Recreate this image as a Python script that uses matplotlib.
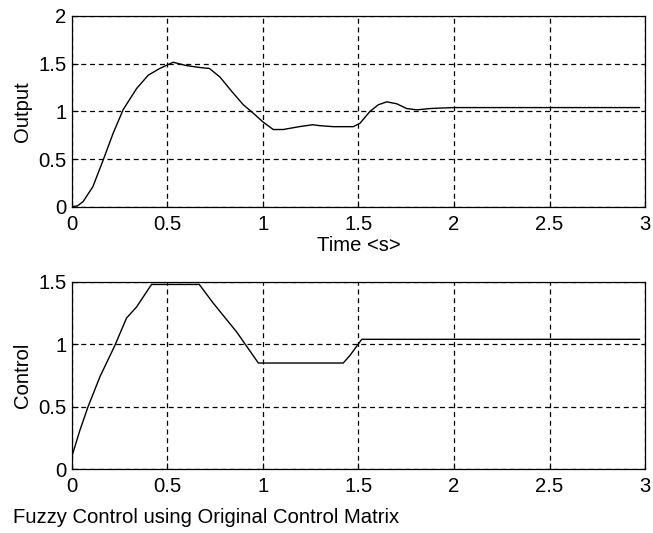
import matplotlib
matplotlib.use("Agg")
import matplotlib.pyplot as plt

plt.rcParams['font.family'] = ['Liberation Sans', 'DejaVu Sans']

# Output response (top)
t_out = [0.0, 0.03, 0.059, 0.11, 0.164, 0.216, 0.269, 0.339, 0.40, 0.46, 0.53, 0.60, 0.67, 0.72,
         0.775, 0.845, 0.897, 0.95, 1.0, 1.054, 1.106, 1.19, 1.26, 1.30, 1.368, 1.473, 1.508,
         1.56, 1.604, 1.648, 1.70, 1.752, 1.805, 1.874, 1.996, 2.97]
y_out = [0.0, 0.01, 0.055, 0.21, 0.49, 0.77, 1.02, 1.24, 1.38, 1.45, 1.515, 1.48, 1.46, 1.45,
         1.36, 1.19, 1.07, 0.98, 0.89, 0.81, 0.81, 0.84, 0.86, 0.85, 0.84, 0.84, 0.876,
         1.0, 1.07, 1.10, 1.08, 1.03, 1.016, 1.03, 1.04, 1.04]

# Control signal (bottom)
t_ctl = [0.0, 0.042, 0.085, 0.147, 0.225, 0.286, 0.339, 0.417, 0.667, 0.74, 0.862, 0.976,
         1.42, 1.455, 1.517, 2.97]
y_ctl = [0.1, 0.31, 0.5, 0.74, 0.99, 1.21, 1.30, 1.48, 1.48, 1.33, 1.10, 0.85,
         0.85, 0.91, 1.04, 1.04]

x_ticks = [0, 0.5, 1, 1.5, 2, 2.5, 3]
x_ticklabels = ['0', '0.5', '1', '1.5', '2', '2.5', '3']
y1_ticks = [0, 0.5, 1, 1.5, 2]
y1_ticklabels = ['0', '0.5', '1', '1.5', '2']
y2_ticks = [0, 0.5, 1, 1.5]
y2_ticklabels = ['0', '0.5', '1', '1.5']

fig = plt.figure(figsize=(6.53, 5.33), dpi=100)
fs = 14.6

def style(ax):
    ax.grid(True, color='black', linestyle=(0, (4, 3)), linewidth=0.9)
    ax.tick_params(direction='in', length=4, labelsize=fs, colors='black')
    ax.tick_params(axis='x', pad=6)
    ax.tick_params(axis='y', pad=4)
    for s in ax.spines.values():
        s.set_color('black')
        s.set_linewidth(0.9)

ax1 = fig.add_axes([0.110, 0.612, 0.878, 0.358])
ax1.plot(t_out, y_out, color='black', linewidth=1.0)
ax1.set_xlim(0, 3)
ax1.set_ylim(0, 2)
ax1.set_xticks(x_ticks)
ax1.set_xticklabels(x_ticklabels)
ax1.set_yticks(y1_ticks)
ax1.set_yticklabels(y1_ticklabels)
ax1.set_xlabel('Time <s>', fontsize=fs, labelpad=1)
ax1.set_ylabel('Output', fontsize=fs, labelpad=4)
style(ax1)

ax2 = fig.add_axes([0.110, 0.120, 0.878, 0.351])
ax2.plot(t_ctl, y_ctl, color='black', linewidth=1.0)
ax2.set_xlim(0, 3)
ax2.set_ylim(0, 1.5)
ax2.set_xticks(x_ticks)
ax2.set_xticklabels(x_ticklabels)
ax2.set_yticks(y2_ticks)
ax2.set_yticklabels(y2_ticklabels)
ax2.set_ylabel('Control', fontsize=fs, labelpad=4)
style(ax2)

fig.text(0.02, 0.03, 'Fuzzy Control using Original Control Matrix', fontsize=fs, va='center', ha='left')

fig.savefig('out.png', dpi=100, facecolor='white')
